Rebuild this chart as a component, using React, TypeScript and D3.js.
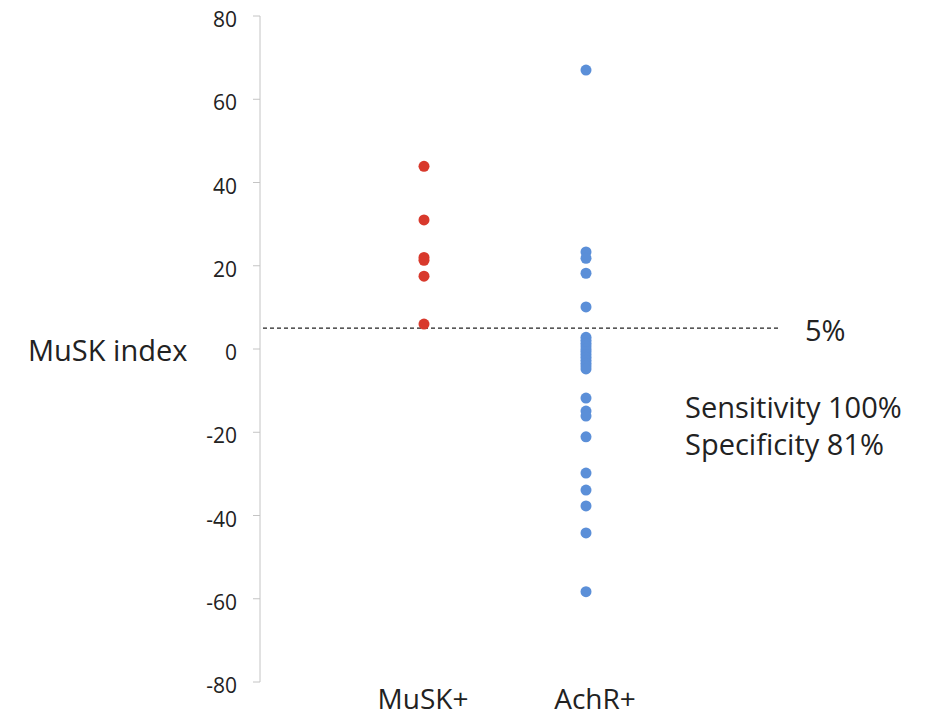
import React from "react";
import * as d3 from "d3";

// MuSK index per patient group
const groups = ["MuSK+", "AchR+"];
const muskValues = [43.9, 31.0, 22.0, 21.3, 17.5, 6.0];
const achrValues = [
  67.0, 23.3, 21.8, 18.2, 10.1,
  2.8, 2.1, 1.4, 0.7, 0.0, -0.6, -1.3, -2.0, -2.7, -3.4, -4.1, -4.8,
  -11.8, -14.9, -16.1, -21.1, -29.8, -33.9, -37.7, -44.2, -58.3,
];
const yTicks = [80, 60, 40, 20, 0, -20, -40, -60, -80];
const cutoff = 5;
const cutoffLabel = "5%";
const statsLines = ["Sensitivity 100%", "Specificity 81%"];
const yTitle = "MuSK index";

const W = 940;
const H = 719;
const FONT = "'Open Sans', sans-serif";

export default function App() {
  const y = d3.scaleLinear().domain([-80, 80]).range([682, 16]);
  const x = d3.scalePoint<string>().domain(groups).range([424, 586]);
  const labelX = d3.scalePoint<string>().domain(groups).range([423, 595]);
  const axisX = 260;

  const series = [
    { group: groups[0], values: muskValues, color: "#d8392c" },
    { group: groups[1], values: achrValues, color: "#5b8fd8" },
  ];

  return (
    <svg
      width={W}
      height={H}
      style={{ position: "absolute", left: 0, top: 0, background: "#fff" }}
      fontFamily={FONT}
    >
      {/* y axis */}
      <line x1={axisX} x2={axisX} y1={y(80)} y2={y(-80)} stroke="#c4c4c4" strokeWidth={1} />
      {yTicks.map((t) => (
        <g key={t}>
          <line x1={axisX - 7} x2={axisX} y1={y(t)} y2={y(t)} stroke="#c4c4c4" strokeWidth={1} />
          <text x={237} y={y(t) + 11} textAnchor="end" fontSize={21} fill="#222">
            {t}
          </text>
        </g>
      ))}
      <text x={28} y={361} fontSize={29} fill="#222">
        {yTitle}
      </text>

      {/* cutoff line */}
      <line
        x1={263}
        x2={778}
        y1={y(cutoff)}
        y2={y(cutoff)}
        stroke="#222"
        strokeWidth={1.2}
        strokeDasharray="4 3"
      />
      <text x={805} y={341} fontSize={29} fill="#222">
        {cutoffLabel}
      </text>
      {statsLines.map((s, i) => (
        <text key={s} x={685} y={418 + i * 37} fontSize={29} fill="#222">
          {s}
        </text>
      ))}

      {/* points */}
      {series.map((s) =>
        s.values.map((v, i) => (
          <circle key={s.group + i} cx={x(s.group)} cy={y(v)} r={5.5} fill={s.color} />
        ))
      )}

      {/* category labels */}
      {groups.map((g) => (
        <text key={g} x={labelX(g)} y={709} textAnchor="middle" fontSize={28} fill="#222">
          {g}
        </text>
      ))}
    </svg>
  );
}
